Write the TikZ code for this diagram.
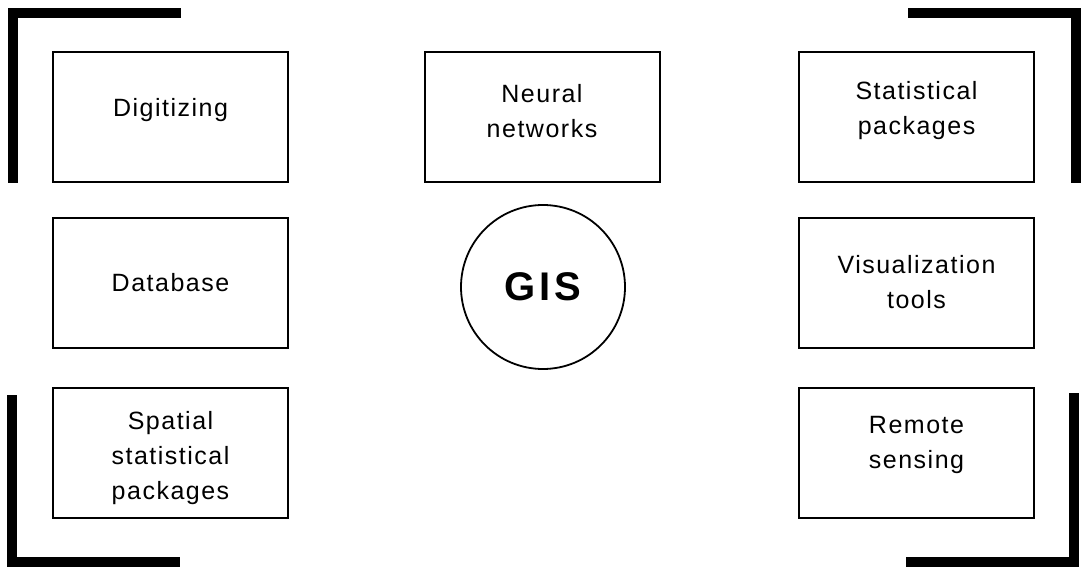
\documentclass[tikz,border=0pt]{standalone}
\usepackage{fontspec}
\setmainfont{Liberation Sans}[LetterSpace=6]
\begin{document}
\begin{tikzpicture}[x=1pt,y=-1pt,
  box/.style={draw=black, line width=2pt, minimum width=235pt, minimum height=130pt, inner sep=0pt},
  txt/.style={align=center, font=\fontsize{25}{35}\selectfont},
  gisnode/.style={draw=black, line width=1.8pt, circle, minimum size=164pt, inner sep=0pt, font=\fontsize{40}{44}\selectfont\bfseries\addfontfeatures{LetterSpace=10}},
  bracket/.style={line width=10pt, line join=miter, line cap=butt}
]
\useasboundingbox (0,0) rectangle (1084,569);
% boxes
\node[box] (dig) at (170.5,117) {};
\node[box] (db) at (170.5,283) {};
\node[box] (sp) at (170.5,452.5) {};
\node[box] (nn) at (542,117) {};
\node[box] (st) at (916.5,117) {};
\node[box] (vi) at (916.5,283) {};
\node[box] (rs) at (916.5,452.5) {};
\node[gisnode] (gis) at (543,287) {GIS};
% texts
\node[txt] (tdig) at ([yshift=7pt]dig.center) {Digitizing};
\node[txt] (tdb) at (db.center) {Database};
\node[txt] (tsp) at ([yshift=-6pt]sp.center) {Spatial\\statistical\\packages};
\node[txt] (tnn) at ([yshift=6pt]nn.center) {Neural\\networks};
\node[txt] (tst) at ([yshift=6pt]st.center) {Statistical\\packages};
\node[txt] (tvi) at ([yshift=1pt]vi.center) {Visualization\\tools};
\node[txt] (trs) at ([yshift=8pt]rs.center) {Remote\\sensing};
% corner brackets
\draw[bracket] (13,183) -- (13,13) -- (181,13);
\draw[bracket] (12,395) -- (12,562) -- (180,562);
\draw[bracket] (908,13) -- (1076,13) -- (1076,183);
\draw[bracket] (1074,393) -- (1074,562) -- (906,562);
\end{tikzpicture}
\end{document}
